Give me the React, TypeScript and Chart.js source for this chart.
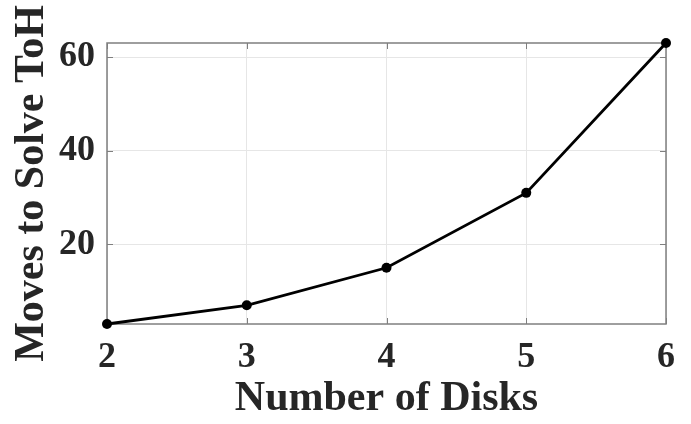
import React, { useEffect, useRef } from "react";
import { Chart, registerables } from "chart.js";

Chart.register(...registerables);

const disks = [2, 3, 4, 5, 6];
const moves = [3, 7, 15, 31, 63];
const xTicks = [2, 3, 4, 5, 6];
const yTicks = [20, 40, 60];

const FONT = "'Liberation Serif', 'Times New Roman', serif";
const TEXT = "#262626";
const AXIS = "#7f7f7f";

const boxPlugin = {
  id: "matlabBox",
  beforeDatasetsDraw(chart: any) {
    const { ctx, chartArea: a, scales } = chart;
    ctx.save();
    ctx.strokeStyle = AXIS;
    ctx.lineWidth = 1;
    const tl = 6;
    ctx.beginPath();
    for (const v of xTicks) {
      const x = Math.round(scales.x.getPixelForValue(v)) + 0.5;
      ctx.moveTo(x, a.bottom);
      ctx.lineTo(x, a.bottom - tl);
      ctx.moveTo(x, a.top);
      ctx.lineTo(x, a.top + tl);
    }
    for (const v of yTicks) {
      const y = Math.round(scales.y.getPixelForValue(v)) + 0.5;
      ctx.moveTo(a.left, y);
      ctx.lineTo(a.left + tl, y);
      ctx.moveTo(a.right, y);
      ctx.lineTo(a.right - tl, y);
    }
    ctx.stroke();
    ctx.lineWidth = 1.5;
    ctx.strokeRect(a.left, a.top, a.right - a.left, a.bottom - a.top);
    ctx.restore();
  },
};

export default function App() {
  const ref = useRef<HTMLCanvasElement>(null);
  useEffect(() => {
    document.body.style.margin = "0";
    const chart = new Chart(ref.current!, {
      type: "line",
      data: {
        datasets: [
          {
            data: disks.map((d, i) => ({ x: d, y: moves[i] })),
            borderColor: "#000",
            backgroundColor: "#000",
            borderWidth: 2.8,
            pointRadius: 5,
            pointBorderWidth: 0,
            tension: 0,
            clip: false as any,
          },
        ],
      },
      options: {
        animation: false,
        responsive: false,
        devicePixelRatio: 1,
        layout: { padding: { top: 43, right: 25, left: 0, bottom: 0 } },
        plugins: { legend: { display: false }, tooltip: { enabled: false } },
        scales: {
          x: {
            type: "linear",
            min: 2,
            max: 6,
            afterBuildTicks: (s: any) => {
              s.ticks = xTicks.map((v) => ({ value: v }));
            },
            afterFit: (s: any) => {
              s.height = 100;
            },
            grid: { color: "#e6e6e6", drawTicks: false, lineWidth: 1 },
            border: { display: false },
            ticks: {
              color: TEXT,
              padding: 12,
              font: { family: FONT, size: 36, weight: "bold" },
            },
            title: {
              display: true,
              text: "Number of Disks",
              color: TEXT,
              padding: { top: 0, bottom: 0 },
              font: { family: FONT, size: 42, weight: "bold" },
            },
          },
          y: {
            type: "linear",
            min: 3,
            max: 63,
            afterBuildTicks: (s: any) => {
              s.ticks = yTicks.map((v) => ({ value: v }));
            },
            afterFit: (s: any) => {
              s.width = 107;
            },
            grid: { color: "#e6e6e6", drawTicks: false, lineWidth: 1 },
            border: { display: false },
            ticks: {
              color: TEXT,
              padding: 12,
              font: { family: FONT, size: 36, weight: "bold" },
            },
            title: {
              display: true,
              text: "Moves to Solve ToH",
              color: TEXT,
              padding: { top: 7, bottom: 0 },
              font: { family: FONT, size: 42, weight: "bold" },
            },
          },
        },
      },
      plugins: [boxPlugin],
    });
    return () => chart.destroy();
  }, []);
  return (
    <div style={{ position: "fixed", left: 0, top: 0, width: 691, height: 424, background: "#fff" }}>
      <canvas ref={ref} width={691} height={424} />
    </div>
  );
}
